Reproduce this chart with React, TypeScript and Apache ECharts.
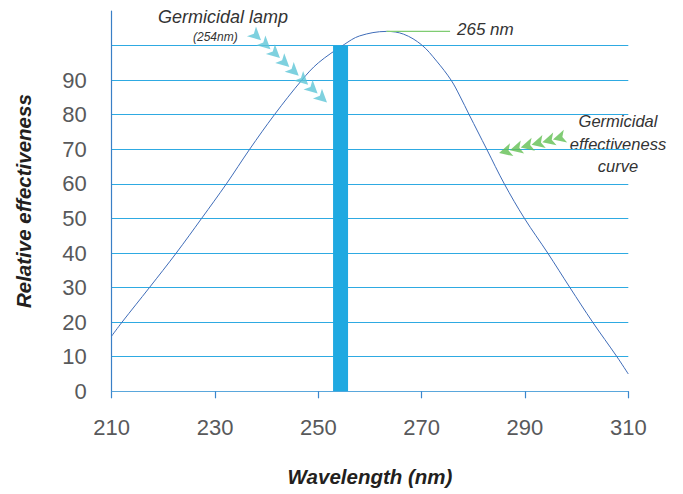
import React, { useEffect, useRef } from "react";
import * as echarts from "echarts";

// Germicidal effectiveness curve: [wavelength nm, relative effectiveness]
const curveData: [number, number][] = [
  [210, 16], [212, 20], [217.3, 30], [222.5, 40], [227.4, 50], [232.2, 60],
  [236.7, 70], [241.5, 80], [246.8, 90], [250, 95], [255, 100.3], [258, 102.8],
  [263.2, 104.1], [266.5, 103.3], [270, 100.2], [272.9, 95.5], [275.7, 90],
  [277.4, 85.4], [279.2, 80], [282.6, 70], [286, 60], [289.9, 50], [294.4, 40],
  [298.7, 30], [303.1, 20], [307.8, 10], [310, 5],
];
// Germicidal lamp emission line
const lampData: [number, number][] = [[254.3, 100]];
// Peak marker (265 nm) leader line
const peakLeader: [number, number][] = [[263.2, 104.1], [275.5, 104.1]];
// Arrow chains (annotation pointers)
const lampArrows: [number, number][] = [
  [238.91, 101.54], [240.73, 98.96], [242.57, 96.41], [244.38, 93.83],
  [246.21, 91.28], [248.03, 88.7], [249.86, 86.14], [251.68, 83.57],
];
const curveArrows: [number, number][] = [
  [295.41, 72.84], [293.35, 72.06], [291.26, 71.28], [289.17, 70.49], [287.08, 69.71], [284.99, 68.93],
];
const xTicks = [210, 230, 250, 270, 290, 310];
const yLabels = [0, 10, 20, 30, 40, 50, 60, 70, 80, 90];

const FONT = "'Liberation Sans', Arial, sans-serif";

export default function App() {
  const ref = useRef<HTMLDivElement>(null);
  useEffect(() => {
    document.body.style.margin = "0";
    if (!ref.current) return;
    const chart = echarts.init(ref.current, undefined, { renderer: "svg" });
    const gridColors: string[] = [];
    for (let i = 0; i < 11; i++) gridColors.push("#2eaae2");
    gridColors.push("rgba(0,0,0,0)");
    chart.setOption({
      animation: false,
      grid: { left: 111.7, right: 54.7, top: 11, bottom: 102.7, containLabel: false },
      xAxis: {
        type: "value",
        min: 210,
        max: 310,
        interval: 20,
        name: "Wavelength (nm)",
        nameLocation: "middle",
        nameGap: 75,
        nameTextStyle: { fontFamily: FONT, fontSize: 20.5, fontStyle: "italic", fontWeight: "bold", color: "#231f20" },
        axisLine: { show: true, lineStyle: { color: "#5aa7dc", width: 1.2 } },
        axisTick: { show: true, length: 7, inside: false, lineStyle: { color: "#3b86cc", width: 1.2 } },
        axisLabel: {
          margin: 25,
          fontFamily: FONT,
          fontSize: 22,
          color: "#58595b",
          formatter: (v: number) => (xTicks.includes(v) ? String(v) : ""),
        },
        splitLine: { show: false },
      },
      yAxis: {
        type: "value",
        min: 0,
        max: 110,
        interval: 10,
        name: "Relative effectiveness",
        nameLocation: "middle",
        nameGap: 78,
        nameTextStyle: { fontFamily: FONT, fontSize: 20.5, fontStyle: "italic", fontWeight: "bold", color: "#231f20" },
        axisLine: { show: true, lineStyle: { color: "#3a7fc6", width: 1.2 } },
        axisTick: { show: false },
        axisLabel: {
          margin: 25,
          fontFamily: FONT,
          fontSize: 22,
          color: "#58595b",
          formatter: (v: number) => (yLabels.includes(v) ? String(v) : ""),
        },
        splitLine: { show: true, lineStyle: { color: gridColors, width: 1.2 } },
      },
      series: [
        {
          type: "line",
          data: curveData,
          smooth: 0.35,
          symbol: "none",
          lineStyle: { color: "#3f6cb8", width: 1 },
          z: 2,
        },
        {
          type: "bar",
          data: lampData,
          barWidth: 15,
          itemStyle: { color: "#1fa9e1" },
          z: 3,
        },
        {
          type: "line",
          data: peakLeader,
          symbol: "none",
          lineStyle: { color: "#7fcc72", width: 1.2 },
          z: 3,
        },
        {
          type: "scatter",
          data: lampArrows,
          symbol: "arrow",
          symbolSize: [10, 13],
          symbolRotate: -132.6,
          itemStyle: { color: "#5ec5d7" },
          z: 4,
        },
        {
          type: "scatter",
          data: curveArrows,
          symbol: "arrow",
          symbolSize: [10, 13],
          symbolRotate: 104.8,
          itemStyle: { color: "#62bf52" },
          z: 4,
        },
      ],
      graphic: [
        {
          type: "text",
          left: 158,
          top: 8,
          style: { text: "Germicidal lamp", font: `italic 18px ${FONT}`, fill: "#333333" },
        },
        {
          type: "text",
          left: 193,
          top: 31,
          style: { text: "(254nm)", font: `italic 12px ${FONT}`, fill: "#333333" },
        },
        {
          type: "text",
          left: 457,
          top: 21,
          style: { text: "265 nm", font: `italic 17px ${FONT}`, fill: "#333333" },
        },
        {
          type: "text",
          x: 618,
          y: 110,
          style: {
            text: "Germicidal\neffectiveness\ncurve",
            font: `italic 16.5px ${FONT}`,
            fill: "#333333",
            align: "center",
            lineHeight: 22.5,
          },
        },
      ],
    });
    return () => chart.dispose();
  }, []);
  return <div ref={ref} style={{ width: 683, height: 494 }} />;
}
